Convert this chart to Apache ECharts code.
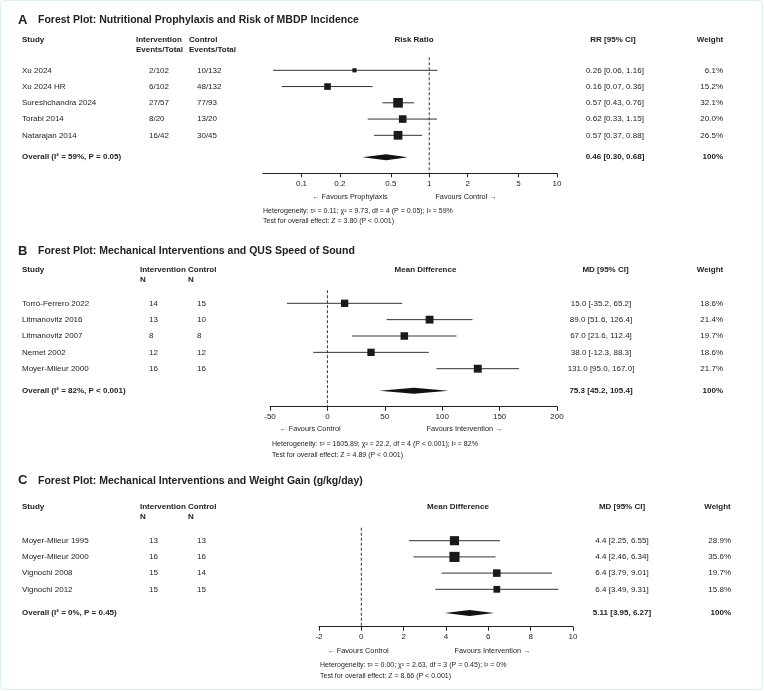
<!DOCTYPE html>
<html>
<head>
<meta charset="utf-8">
<script src="https://cdn.jsdelivr.net/npm/echarts@6/dist/echarts.min.js"></script>
<style>
  html, body { margin: 0; padding: 0; background: #fff; }
  #chart { width: 764px; height: 691px; }
</style>
</head>
<body>
<div id="chart"></div>
<script>
// ---- Panel A: nutritional prophylaxis, risk ratio (log scale)
const aStudies = ['Xu 2024', 'Xu 2024 HR', 'Sureshchandra 2024', 'Torabi 2014', 'Natarajan 2014'];
const aInterv = ['2/102', '6/102', '27/57', '8/20', '16/42'];
const aControl = ['10/132', '48/132', '77/93', '13/20', '30/45'];
const aEst = [0.26, 0.16, 0.57, 0.62, 0.57];
const aLow = [0.06, 0.07, 0.43, 0.33, 0.37];
const aHigh = [1.16, 0.36, 0.76, 1.15, 0.88];
const aWeight = [6.1, 15.2, 32.1, 20.0, 26.5];
const aOverall = [0.46, 0.30, 0.68];
const aTicks = [0.1, 0.2, 0.5, 1, 2, 5, 10];

// ---- Panel B: mechanical interventions, QUS speed of sound
const bStudies = ['Torró-Ferrero 2022', 'Litmanovitz 2016', 'Litmanovitz 2007', 'Nemet 2002', 'Moyer-Mileur 2000'];
const bInterv = [14, 13, 8, 12, 16];
const bControl = [15, 10, 8, 12, 16];
const bEst = [15.0, 89.0, 67.0, 38.0, 131.0];
const bLow = [-35.2, 51.6, 21.6, -12.3, 95.0];
const bHigh = [65.2, 126.4, 112.4, 88.3, 167.0];
const bWeight = [18.6, 21.4, 19.7, 18.6, 21.7];
const bOverall = [75.3, 45.2, 105.4];

// ---- Panel C: mechanical interventions, weight gain
const cStudies = ['Moyer-Mileur 1995', 'Moyer-Mileur 2000', 'Vignochi 2008', 'Vignochi 2012'];
const cInterv = [13, 16, 15, 15];
const cControl = [13, 16, 14, 15];
const cEst = [4.4, 4.4, 6.4, 6.4];
const cLow = [2.25, 2.46, 3.79, 3.49];
const cHigh = [6.55, 6.34, 9.01, 9.31];
const cWeight = [28.9, 35.6, 19.7, 15.8];
const cOverall = [5.11, 3.95, 6.27];

const FONT = '"Liberation Sans", Arial, Helvetica, sans-serif';
const INK = '#222';

function font(size, bold) { return (bold ? 'bold ' : '') + size + 'px ' + FONT; }

function txt(text, x, y, size, bold, align) {
  align = align || 'left';
  return {
    type: 'text', x: x, y: y, silent: true,
    style: { text: String(text), font: font(size, bold), fill: INK,
      align: align, verticalAlign: 'middle', textAlign: align, textVerticalAlign: 'middle' }
  };
}

const panels = [
  {
    letter: 'A', title: 'Forest Plot: Nutritional Prophylaxis and Risk of MBDP Incidence', titleY: 20.5,
    head1: 'Intervention', head2: 'Control', sub: 'Events/Total', headY: 39.3, subY: 49.3, intX: 136, ctlX: 189,
    plotHead: 'Risk Ratio', plotHeadX: 414, ciHead: 'RR [95% CI]', ciHeadX: 613, wHeadX: 710,
    studies: aStudies, interv: aInterv, control: aControl, est: aEst, low: aLow, high: aHigh, weight: aWeight,
    overall: aOverall, overallLabel: 'Overall (I² = 59%, P = 0.05)',
    tf: Math.log10, nullV: 1, min: Math.log10(0.05), max: 1, ticks: aTicks.map(Math.log10),
    fmtTick: v => String(+Math.pow(10, v).toPrecision(3)),
    fmtCI: (e, l, h) => e.toFixed(2) + ' [' + l.toFixed(2) + ', ' + h.toFixed(2) + ']',
    fmtOverall: (e, l, h) => e.toFixed(2) + ' [' + l.toFixed(2) + ', ' + h.toFixed(2) + ']',
    plotL: 263, plotR: 557, row0: 70.3, rowH: 16.25, overallRow: 5.35, axisY: 173.3,
    colInt: 149, colCtl: 197, colCI: 615, colW: 723,
    favL: '← Favours Prophylaxis', favLX: 350, favR: 'Favours Control →', favRX: 466, favY: 196.5,
    het: 'Heterogeneity: τ² = 0.11; χ² = 9.73, df = 4 (P = 0.05); I² = 59%',
    test: 'Test for overall effect: Z = 3.80 (P < 0.001)', hetX: 263, hetY: 211, testY: 221.5
  },
  {
    letter: 'B', title: 'Forest Plot: Mechanical Interventions and QUS Speed of Sound', titleY: 251,
    head1: 'Intervention', head2: 'Control', sub: 'N', headY: 269.3, subY: 280, intX: 140, ctlX: 188,
    plotHead: 'Mean Difference', plotHeadX: 425.5, ciHead: 'MD [95% CI]', ciHeadX: 605.5, wHeadX: 710,
    studies: bStudies, interv: bInterv, control: bControl, est: bEst, low: bLow, high: bHigh, weight: bWeight,
    overall: bOverall, overallLabel: 'Overall (I² = 82%, P < 0.001)',
    tf: v => v, nullV: 0, min: -50, max: 200, interval: 50,
    fmtCI: (e, l, h) => e.toFixed(1) + ' [' + l.toFixed(1) + ', ' + h.toFixed(1) + ']',
    fmtOverall: (e, l, h) => e.toFixed(1) + ' [' + l.toFixed(1) + ', ' + h.toFixed(1) + ']',
    plotL: 270, plotR: 557, row0: 303.3, rowH: 16.35, overallRow: 5.35, axisY: 406.7,
    colInt: 149, colCtl: 197, colCI: 601, colW: 723,
    favL: '← Favours Control', favLX: 310, favR: 'Favours Intervention →', favRX: 464.5, favY: 429,
    het: 'Heterogeneity: τ² = 1605.89; χ² = 22.2, df = 4 (P < 0.001); I² = 82%',
    test: 'Test for overall effect: Z = 4.89 (P < 0.001)', hetX: 272, hetY: 444.3, testY: 455
  },
  {
    letter: 'C', title: 'Forest Plot: Mechanical Interventions and Weight Gain (g/kg/day)', titleY: 480.7,
    head1: 'Intervention', head2: 'Control', sub: 'N', headY: 506.7, subY: 516.7, intX: 140, ctlX: 188,
    plotHead: 'Mean Difference', plotHeadX: 458, ciHead: 'MD [95% CI]', ciHeadX: 622, wHeadX: 717.5,
    studies: cStudies, interv: cInterv, control: cControl, est: cEst, low: cLow, high: cHigh, weight: cWeight,
    overall: cOverall, overallLabel: 'Overall (I² = 0%, P = 0.45)',
    tf: v => v, nullV: 0, min: -2, max: 10, interval: 2,
    fmtCI: (e, l, h) => e.toFixed(1) + ' [' + l.toFixed(2) + ', ' + h.toFixed(2) + ']',
    fmtOverall: (e, l, h) => e.toFixed(2) + ' [' + l.toFixed(2) + ', ' + h.toFixed(2) + ']',
    plotL: 319, plotR: 573, row0: 540.7, rowH: 16.2, overallRow: 4.46, axisY: 626.7,
    colInt: 149, colCtl: 197, colCI: 622, colW: 731,
    favL: '← Favours Control', favLX: 358, favR: 'Favours Intervention →', favRX: 492.5, favY: 650.7,
    het: 'Heterogeneity: τ² = 0.00; χ² = 2.63, df = 3 (P = 0.45); I² = 0%',
    test: 'Test for overall effect: Z = 8.66 (P < 0.001)', hetX: 320, hetY: 665, testY: 675.7
  }
];

const grid = [], xAxis = [], yAxis = [], series = [];
const graphic = [{
  type: 'rect', silent: true, z: -10,
  shape: { x: 0.5, y: 0.5, width: 762, height: 689, r: 4 },
  style: { fill: '#fff', stroke: '#dcedf4', lineWidth: 1 }
}];

panels.forEach((p, gi) => {
  const top = p.row0 - p.rowH;
  const yMax = (p.axisY - p.row0) / p.rowH;
  grid.push({ left: p.plotL, width: p.plotR - p.plotL, top: top, height: p.axisY - top,
    containLabel: false, outerBoundsMode: 'none' });

  const xa = {
    gridIndex: gi, type: 'value', min: p.min, max: p.max, position: 'bottom',
    splitLine: { show: false },
    axisLine: { onZero: false, lineStyle: { color: INK, width: 1 } },
    axisTick: { show: true, length: 4, lineStyle: { color: INK } },
    axisLabel: { fontSize: 8, fontFamily: FONT, color: INK, margin: 6 }
  };
  if (p.ticks) {
    xa.axisTick.customValues = p.ticks;
    xa.axisLabel.customValues = p.ticks;
    xa.axisLabel.formatter = p.fmtTick;
  } else {
    xa.interval = p.interval;
  }
  xAxis.push(xa);
  yAxis.push({ gridIndex: gi, type: 'value', inverse: true, min: -1, max: yMax, show: false });

  // dashed line of no effect
  series.push({
    type: 'line', xAxisIndex: gi, yAxisIndex: gi, symbol: 'none', silent: true,
    data: [[p.tf(p.nullV), -0.8], [p.tf(p.nullV), yMax]],
    lineStyle: { color: '#333', width: 1, type: [3, 2] }, z: 1
  });

  // study rows: CI line, weight square and table text
  series.push({
    type: 'custom', xAxisIndex: gi, yAxisIndex: gi, clip: false, silent: true, z: 3,
    data: p.studies.map((s, i) => [p.tf(p.est[i]), i, p.tf(p.low[i]), p.tf(p.high[i]), p.weight[i]]),
    renderItem: (params, api) => {
      const i = params.dataIndex;
      const c = api.coord([api.value(0), api.value(1)]);
      const lo = api.coord([api.value(2), api.value(1)]);
      const hi = api.coord([api.value(3), api.value(1)]);
      const s = 1.7 * Math.sqrt(api.value(4));
      const y = c[1];
      return {
        type: 'group',
        children: [
          { type: 'line', shape: { x1: lo[0], y1: y, x2: hi[0], y2: y }, style: { stroke: '#333', lineWidth: 1 } },
          { type: 'rect', shape: { x: c[0] - s / 2, y: y - s / 2, width: s, height: s }, style: { fill: '#1a1a1a' } },
          txt(p.studies[i], 22, y, 8),
          txt(p.interv[i], p.colInt, y, 8),
          txt(p.control[i], p.colCtl, y, 8),
          txt(p.fmtCI(p.est[i], p.low[i], p.high[i]), p.colCI, y, 8, false, 'center'),
          txt(p.weight[i].toFixed(1) + '%', p.colW, y, 8, false, 'right')
        ]
      };
    }
  });

  // pooled estimate diamond
  series.push({
    type: 'custom', xAxisIndex: gi, yAxisIndex: gi, clip: false, silent: true, z: 3,
    data: [[p.tf(p.overall[0]), p.overallRow, p.tf(p.overall[1]), p.tf(p.overall[2])]],
    renderItem: (params, api) => {
      const c = api.coord([api.value(0), api.value(1)]);
      const l = api.coord([api.value(2), api.value(1)]);
      const r = api.coord([api.value(3), api.value(1)]);
      const y = c[1];
      return {
        type: 'group',
        children: [
          { type: 'polygon', shape: { points: [[l[0], y], [c[0], y - 3], [r[0], y], [c[0], y + 3]] },
            style: { fill: '#111' } },
          txt(p.overallLabel, 22, y, 8, true),
          txt(p.fmtOverall(p.overall[0], p.overall[1], p.overall[2]), p.colCI, y, 8, true, 'center'),
          txt('100%', p.colW, y, 8, true, 'right')
        ]
      };
    }
  });

  // titles, headers, footers
  graphic.push(
    txt(p.letter, 18, p.titleY, 13, true),
    txt(p.title, 38, p.titleY, 10.5, true),
    txt('Study', 22, p.headY, 8, true),
    txt(p.head1, p.intX, p.headY, 8, true),
    txt(p.sub, p.intX, p.subY, 8, true),
    txt(p.head2, p.ctlX, p.headY, 8, true),
    txt(p.sub, p.ctlX, p.subY, 8, true),
    txt(p.plotHead, p.plotHeadX, p.headY, 8, true, 'center'),
    txt(p.ciHead, p.ciHeadX, p.headY, 8, true, 'center'),
    txt('Weight', p.wHeadX, p.headY, 8, true, 'center'),
    txt(p.favL, p.favLX, p.favY, 7.3, false, 'center'),
    txt(p.favR, p.favRX, p.favY, 7.3, false, 'center'),
    txt(p.het, p.hetX, p.hetY, 7, false),
    txt(p.test, p.hetX, p.testY, 7, false)
  );
});

const chart = echarts.init(document.getElementById('chart'), null, { renderer: 'canvas' });
chart.setOption({
  animation: false,
  backgroundColor: '#fff',
  grid: grid,
  xAxis: xAxis,
  yAxis: yAxis,
  series: series,
  graphic: graphic
});
</script>
</body>
</html>
